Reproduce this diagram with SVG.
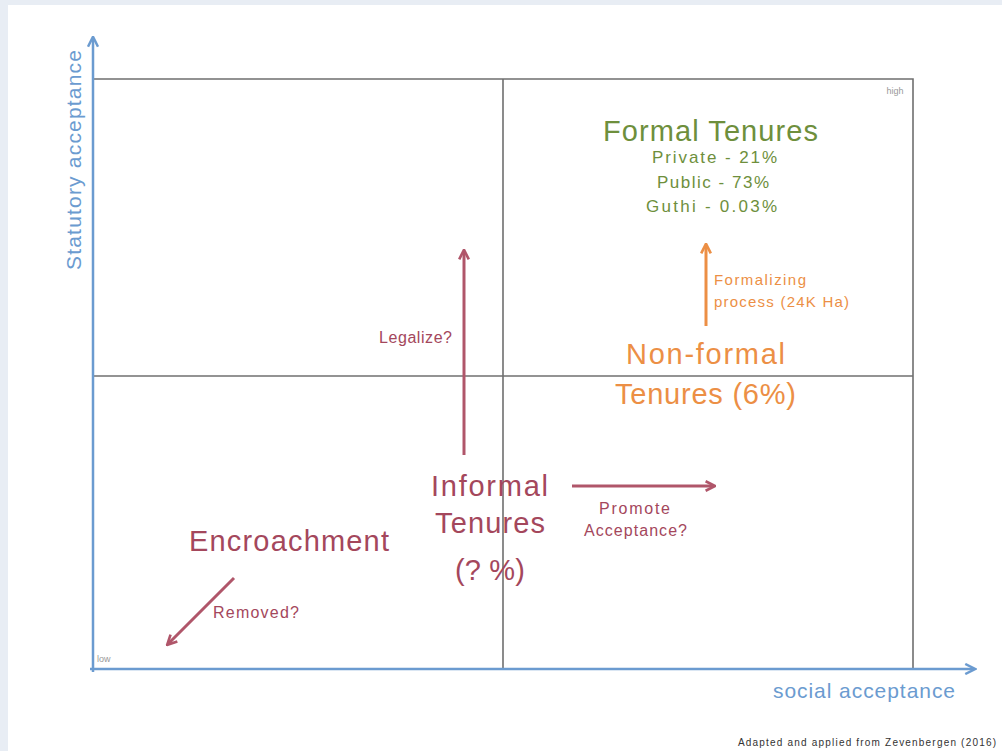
<svg xmlns="http://www.w3.org/2000/svg" width="1002" height="751" viewBox="0 0 1002 751">
<style>
text{font-family:"Liberation Sans",Arial,sans-serif}
.grid{stroke:#6f6f6f;stroke-width:1.6;fill:none}
.axis{stroke:#6b9bd0;stroke-width:2.5;fill:none}
.axt{fill:#6b9bd0;font-size:21px}
.red{fill:#a4475c}
.redl{stroke:#b0566a;stroke-width:3;fill:none}
.org{fill:#ec8f45}
.grn{fill:#6e8f3c}
.tiny{fill:#999;font-size:9px}
</style>
<defs>
<marker id="ab" viewBox="0 0 10 10" refX="8" refY="5" markerWidth="5" markerHeight="5" orient="auto" markerUnits="strokeWidth"><path d="M1,1 L9,5 L1,9" fill="none" stroke="#6b9bd0" stroke-width="2"/></marker>
<marker id="ar" viewBox="0 0 10 10" refX="8" refY="5" markerWidth="4" markerHeight="4" orient="auto" markerUnits="strokeWidth"><path d="M1,1 L9,5 L1,9" fill="none" stroke="#b0566a" stroke-width="2.2"/></marker>
<marker id="ao" viewBox="0 0 10 10" refX="8" refY="5" markerWidth="4" markerHeight="4" orient="auto" markerUnits="strokeWidth"><path d="M1,1 L9,5 L1,9" fill="none" stroke="#ec8f45" stroke-width="2.2"/></marker>
</defs>
<rect width="1002" height="751" fill="#e8edf4"/>
<rect x="8" y="5" width="994" height="746" fill="#ffffff"/>
<g id="grid">
<polyline class="grid" points="93,79 913,79 913,669"/>
<line class="grid" x1="503" y1="79" x2="503" y2="669"/>
<line class="grid" x1="93" y1="376" x2="913" y2="376"/>
</g>
<g id="axes">
<line class="axis" x1="93" y1="672" x2="93" y2="38" marker-end="url(#ab)"/>
<line class="axis" x1="90" y1="669" x2="974" y2="669" marker-end="url(#ab)"/>
<text class="axt" transform="translate(81,160) rotate(-90)" text-anchor="middle" textLength="220">Statutory acceptance</text>
<text class="axt" x="864" y="698" text-anchor="middle" textLength="182">social acceptance</text>
<text class="tiny" x="895" y="94" text-anchor="middle">high</text>
<text class="tiny" x="97" y="662">low</text>
</g>
<g id="connectors">
<line class="redl" x1="464" y1="455" x2="464" y2="251" marker-end="url(#ar)"/>
<line class="redl" x1="572" y1="486" x2="714" y2="486" marker-end="url(#ar)"/>
<line class="redl" x1="234" y1="578" x2="168" y2="644" marker-end="url(#ar)"/>
<line x1="706" y1="326" x2="706" y2="245" stroke="#ec8f45" stroke-width="3" marker-end="url(#ao)"/>
</g>
<g id="formal" class="grn">
<text x="603" y="141" font-size="29" textLength="215">Formal Tenures</text>
<text x="652" y="163" font-size="17" textLength="125">Private - 21%</text>
<text x="657" y="188" font-size="17" textLength="112">Public - 73%</text>
<text x="646" y="212" font-size="17" textLength="131">Guthi  - 0.03%</text>
</g>
<g id="formalizing" class="org">
<text x="714" y="285" font-size="15" textLength="92">Formalizing</text>
<text x="714" y="307" font-size="15" textLength="135">process (24K Ha)</text>
</g>
<g id="nonformal" class="org">
<text x="626" y="364" font-size="29" textLength="159">Non-formal</text>
<text x="615" y="404" font-size="29" textLength="181">Tenures (6%)</text>
</g>
<g id="informal" class="red">
<text x="431" y="496" font-size="29" textLength="117">Informal</text>
<text x="435" y="533" font-size="29" textLength="110">Tenures</text>
<text x="455" y="580" font-size="29" textLength="70">(? %)</text>
</g>
<g id="legalize" class="red">
<text x="379" y="343" font-size="16" textLength="73">Legalize?</text>
</g>
<g id="promote" class="red">
<text x="599" y="514" font-size="16" textLength="71">Promote</text>
<text x="584" y="536" font-size="16" textLength="103">Acceptance?</text>
</g>
<g id="encroachment" class="red">
<text x="189" y="551" font-size="29" textLength="200">Encroachment</text>
</g>
<g id="removed" class="red">
<text x="213" y="618" font-size="16" textLength="86">Removed?</text>
</g>
<text x="738" y="746" font-size="10" fill="#333" textLength="258">Adapted and applied from Zevenbergen (2016)</text>
</svg>
